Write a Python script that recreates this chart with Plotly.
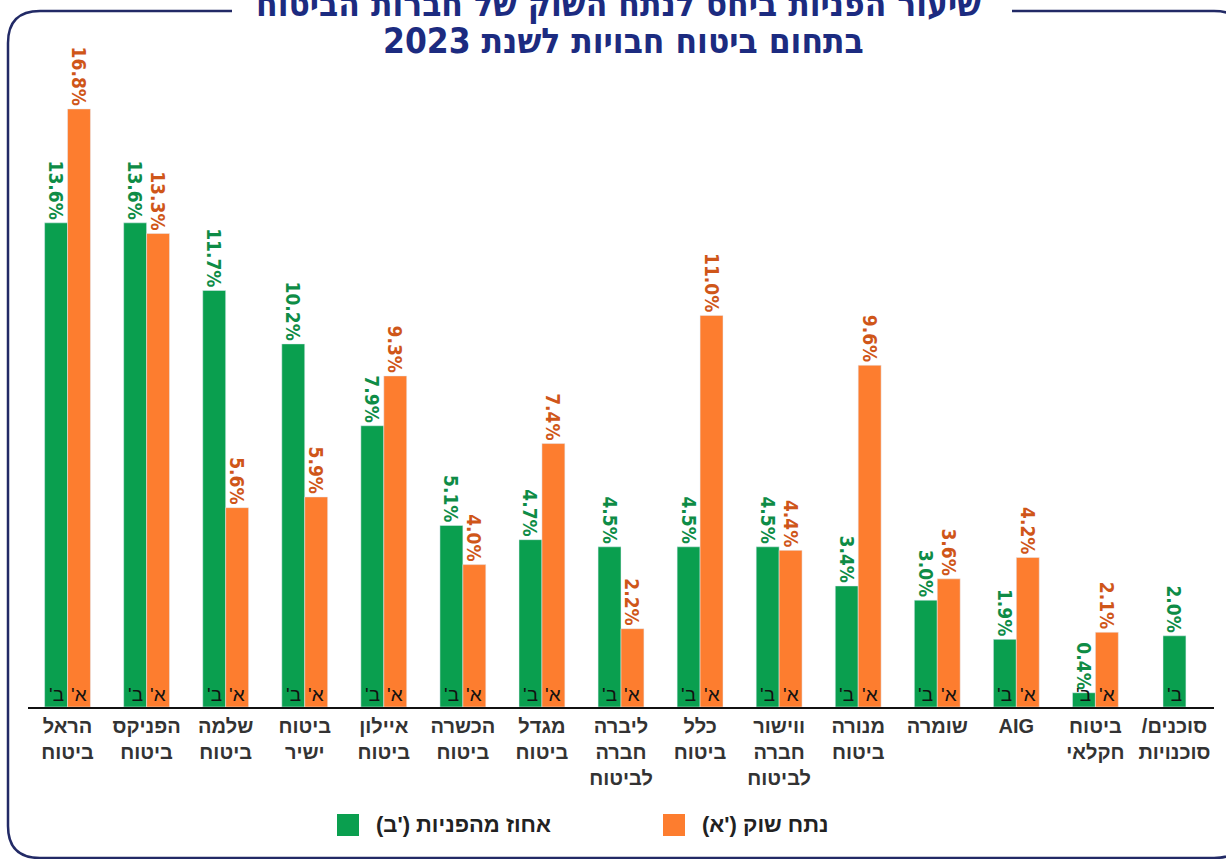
import plotly.graph_objects as go

# ---------------- data ----------------
categories = [
    "הראל<br>ביטוח", "הפניקס<br>ביטוח", "שלמה<br>ביטוח", "ביטוח<br>ישיר", "איילון<br>ביטוח",
    "הכשרה<br>ביטוח", "מגדל<br>ביטוח", "ליברה<br>חברה<br>לביטוח", "כלל<br>ביטוח",
    "ווישור<br>חברה<br>לביטוח", "מנורה<br>ביטוח", "שומרה", "AIG", "ביטוח<br>חקלאי",
    "/סוכנים<br>סוכנויות",
]
referrals_pct = [13.6, 13.6, 11.7, 10.2, 7.9, 5.1, 4.7, 4.5, 4.5, 4.5, 3.4, 3.0, 1.9, 0.4, 2.0]   # ב'
market_share_pct = [16.8, 13.3, 5.6, 5.9, 9.3, 4.0, 7.4, 2.2, 11.0, 4.4, 9.6, 3.6, 4.2, 2.1, None]  # א'

series_names = ["אחוז מהפניות ('ב)", "נתח שוק ('א)"]
bar_tags = ["'ב", "'א"]
title_line1 = "שיעור הפניות ביחס לנתח השוק של חברות הביטוח"
title_line2 = "בתחום ביטוח חבויות לשנת 2023"

# ---------------- styling ----------------
GREEN = "#0a9f4f"
ORANGE = "#fd7d2f"
GREEN_TXT = "#0e8c46"
ORANGE_TXT = "#cf5619"
NAVY = "#1c2b80"
W, H = 1226, 859
L, R, T, B = 28, 12, 60, 152
PW, PH = W - L - R, H - T - B
BW = 0.29
LABEL_FONT = dict(family="Liberation Sans Narrow, DejaVu Sans Condensed, sans-serif", size=19, weight="bold")

def px2x(p):
    return (p - L) / PW

def px2y(p):
    return (H - B - p) / PH

idx = list(range(len(categories)))
fig = go.Figure()

g_idx = [i for i in idx if market_share_pct[i] is not None]
s_idx = [i for i in idx if market_share_pct[i] is None]

def fmt(v):
    return f"{v:.1f}%"

fig.add_trace(go.Bar(
    x=g_idx, y=[referrals_pct[i] for i in g_idx], width=BW, offset=-BW,
    marker_color=GREEN, name="אחוז מהפניות", showlegend=False,
    text=[fmt(referrals_pct[i]) for i in g_idx], textposition="outside", textangle=90,
    textfont=dict(color=GREEN_TXT, **LABEL_FONT), constraintext="none", cliponaxis=False,
))
fig.add_trace(go.Bar(
    x=s_idx, y=[referrals_pct[i] for i in s_idx], width=BW, offset=-BW / 2,
    marker_color=GREEN, name="אחוז מהפניות", showlegend=False,
    text=[fmt(referrals_pct[i]) for i in s_idx], textposition="outside", textangle=90,
    textfont=dict(color=GREEN_TXT, **LABEL_FONT), constraintext="none", cliponaxis=False,
))
fig.add_trace(go.Bar(
    x=g_idx, y=[market_share_pct[i] for i in g_idx], width=BW, offset=0,
    marker_color=ORANGE, name="נתח שוק", showlegend=False,
    text=[fmt(market_share_pct[i]) for i in g_idx], textposition="outside", textangle=90,
    textfont=dict(color=ORANGE_TXT, **LABEL_FONT), constraintext="none", cliponaxis=False,
))

annotations = []
tag_font = dict(family="Liberation Sans, DejaVu Sans, sans-serif", size=19, color="#111")
for i in g_idx:
    annotations.append(dict(x=i - BW / 2, y=0, xref="x", yref="y", text=bar_tags[0],
                            showarrow=False, yanchor="bottom", yshift=0, font=tag_font))
    annotations.append(dict(x=i + BW / 2, y=0, xref="x", yref="y", text=bar_tags[1],
                            showarrow=False, yanchor="bottom", yshift=0, font=tag_font))
for i in s_idx:
    annotations.append(dict(x=i, y=0, xref="x", yref="y", text=bar_tags[0],
                            showarrow=False, yanchor="bottom", yshift=0, font=tag_font))

# title
title_font = dict(family="Liberation Sans Narrow, DejaVu Sans Condensed, sans-serif", size=35, color=NAVY)
annotations.append(dict(x=px2x(618), y=px2y(4), xref="paper", yref="paper", text=f"<b>{title_line1}</b>",
                        showarrow=False, xanchor="center", yanchor="middle", font=title_font))
annotations.append(dict(x=px2x(623), y=px2y(41), xref="paper", yref="paper", text=f"<b>{title_line2}</b>",
                        showarrow=False, xanchor="center", yanchor="middle", font=title_font))

# manual legend
legend_font = dict(family="Liberation Sans, DejaVu Sans, sans-serif", size=22, color="#222")
shapes = []
for (sx, col, name, tx) in [(337, GREEN, series_names[0], 374), (663, ORANGE, series_names[1], 700)]:
    shapes.append(dict(type="rect", xref="paper", yref="paper", x0=px2x(sx), x1=px2x(sx + 22),
                       y0=px2y(836), y1=px2y(814), fillcolor=col, line=dict(width=0)))
    annotations.append(dict(x=px2x(tx), y=px2y(825), xref="paper", yref="paper", text=f"<b>{name}</b>",
                            showarrow=False, xanchor="left", yanchor="middle", font=legend_font))

# frame with gap for title
def P(px, py):
    return f"{px2x(px):.5f},{px2y(py):.5f}"

top, bot, left, right, rad = 11, 858, 8, 1246, 32
path = (f"M{P(1012, top)} L{P(right - rad, top)} Q{P(right, top)} {P(right, top + rad)} "
        f"L{P(right, bot - rad)} Q{P(right, bot)} {P(right - rad, bot)} "
        f"L{P(left + rad, bot)} Q{P(left, bot)} {P(left, bot - rad)} "
        f"L{P(left, top + rad)} Q{P(left, top)} {P(left + rad, top)} L{P(232, top)}")
shapes.append(dict(type="path", xref="paper", yref="paper", path=path,
                   line=dict(color="#222a66", width=2.5)))

fig.update_layout(
    width=W, height=H, margin=dict(l=L, r=R, t=T, b=B),
    paper_bgcolor="white", plot_bgcolor="white",
    barmode="overlay", showlegend=False,
    annotations=annotations, shapes=shapes,
    xaxis=dict(range=[-0.5, len(categories) - 0.5], tickmode="array", tickvals=idx, ticktext=categories,
               showline=True, linecolor="#111", linewidth=2, showgrid=False, zeroline=False,
               ticks="", tickfont=dict(family="Liberation Sans, DejaVu Sans, sans-serif", size=20,
                                       color="#333", weight="bold")),
    yaxis=dict(range=[0, PH / 35.6], visible=False, showgrid=False, zeroline=False),
)

fig.write_html("out.html", config={"displayModeBar": False},
               post_script="document.body.style.margin='0';document.body.style.overflow='hidden';")
